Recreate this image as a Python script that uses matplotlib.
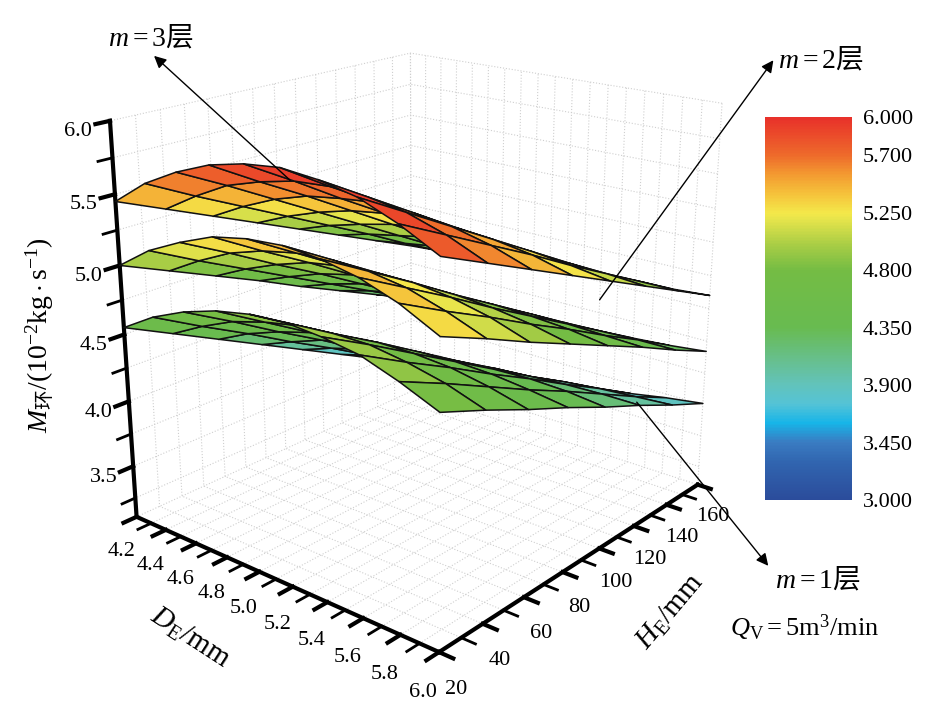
import numpy as np
import matplotlib
matplotlib.use('Agg')
import matplotlib.pyplot as plt
from matplotlib.colors import LinearSegmentedColormap, Normalize
from matplotlib.ticker import MultipleLocator, FormatStrFormatter
import matplotlib.cm as cm

plt.rcParams['font.family'] = ['Liberation Serif', 'Noto Sans CJK SC']
plt.rcParams['mathtext.fontset'] = 'custom'
plt.rcParams['mathtext.rm'] = 'Liberation Serif'
plt.rcParams['mathtext.it'] = 'Liberation Serif:italic'
plt.rcParams['mathtext.sf'] = 'Noto Sans CJK SC'

# 数据: 行 = D_E, 列 = H_E
D_E = [4.2, 4.4, 4.6, 4.8, 5.0, 5.2, 5.4, 5.6, 5.8, 6.0]
H_E = [20, 40, 60, 80, 100, 120, 140, 160]

M_m3 = [
    [5.45, 5.30, 5.15, 5.00, 4.85, 4.70, 4.55, 4.40],
    [5.63, 5.45, 5.28, 5.11, 4.94, 4.77, 4.59, 4.42],
    [5.76, 5.58, 5.39, 5.20, 5.01, 4.82, 4.63, 4.44],
    [5.86, 5.66, 5.47, 5.27, 5.07, 4.87, 4.67, 4.47],
    [5.92, 5.72, 5.51, 5.31, 5.10, 4.90, 4.69, 4.49],
    [5.95, 5.74, 5.54, 5.33, 5.13, 4.92, 4.72, 4.51],
    [5.93, 5.73, 5.53, 5.33, 5.13, 4.93, 4.73, 4.53],
    [5.88, 5.69, 5.50, 5.31, 5.12, 4.93, 4.74, 4.56],
    [5.78, 5.61, 5.44, 5.27, 5.09, 4.92, 4.75, 4.58],
    [5.65, 5.50, 5.35, 5.20, 5.05, 4.90, 4.75, 4.60],
]
M_m2 = [
    [5.00, 4.85, 4.70, 4.55, 4.39, 4.24, 4.09, 3.94],
    [5.17, 4.99, 4.82, 4.65, 4.48, 4.31, 4.14, 3.97],
    [5.29, 5.11, 4.92, 4.74, 4.55, 4.36, 4.18, 3.99],
    [5.39, 5.19, 5.00, 4.80, 4.60, 4.41, 4.21, 4.02],
    [5.44, 5.24, 5.04, 4.84, 4.64, 4.44, 4.24, 4.04],
    [5.46, 5.26, 5.06, 4.86, 4.66, 4.47, 4.27, 4.07],
    [5.44, 5.25, 5.06, 4.86, 4.67, 4.48, 4.29, 4.09],
    [5.39, 5.21, 5.03, 4.84, 4.66, 4.48, 4.30, 4.12],
    [5.30, 5.13, 4.97, 4.80, 4.64, 4.47, 4.31, 4.14],
    [5.17, 5.03, 4.88, 4.74, 4.60, 4.46, 4.31, 4.17],
]
M_m1 = [
    [4.55, 4.38, 4.21, 4.04, 3.87, 3.70, 3.53, 3.36],
    [4.70, 4.51, 4.33, 4.14, 3.96, 3.77, 3.59, 3.41],
    [4.81, 4.62, 4.42, 4.23, 4.03, 3.84, 3.64, 3.45],
    [4.89, 4.69, 4.49, 4.29, 4.09, 3.89, 3.69, 3.49],
    [4.94, 4.74, 4.54, 4.34, 4.14, 3.94, 3.74, 3.54],
    [4.96, 4.76, 4.57, 4.37, 4.17, 3.98, 3.78, 3.58],
    [4.94, 4.76, 4.57, 4.38, 4.19, 4.00, 3.82, 3.63],
    [4.90, 4.72, 4.55, 4.37, 4.20, 4.02, 3.85, 3.67],
    [4.81, 4.66, 4.50, 4.34, 4.19, 4.03, 3.87, 3.72],
    [4.70, 4.57, 4.43, 4.30, 4.16, 4.03, 3.89, 3.76],
]

cbar_ticks = [3.0, 3.45, 3.9, 4.35, 4.8, 5.25, 5.7, 6.0]

# 色标 (Origin 风格)
stops = [(3.0, '#2b4c9b'), (3.3, '#3166b0'), (3.45, '#3a7cc2'), (3.6, '#17b5e8'),
         (3.75, '#55c3d6'), (3.9, '#62c3bb'), (4.1, '#67bf8c'), (4.35, '#68bb50'),
         (4.8, '#74bc44'), (5.0, '#a8cd45'), (5.2, '#e6e44b'), (5.25, '#f4e84a'),
         (5.4, '#f5c23b'), (5.55, '#f39b31'), (5.7, '#ee6b2b'), (6.0, '#e8302a')]
vmin, vmax = 3.0, 6.0
cmap = LinearSegmentedColormap.from_list(
    'origin', [((v - vmin) / (vmax - vmin), c) for v, c in stops])
norm = Normalize(vmin, vmax)

fig = plt.figure(figsize=(9.36, 7.09), dpi=100)
ax = fig.add_axes([0.011, 0.012, 0.86, 1.06], projection='3d', computed_zorder=False)

X, Y = np.meshgrid(D_E, H_E, indexing='ij')
for i, Z in enumerate([M_m1, M_m2, M_m3]):
    Z = np.array(Z)
    ax.plot_surface(X, Y, Z, facecolors=cmap(norm(Z)), edgecolor='#111111',
                    linewidth=1.1, shade=False, antialiased=True, zorder=2 + i)

ax.set_xlim(4.2, 6.0)
ax.set_ylim(20, 160)
ax.set_zlim(3.1, 6.0)
ax.set_box_aspect((0.97, 1.05, 1.0), zoom=0.93)
ax.view_init(elev=20, azim=-50)
ax.set_proj_type('persp', focal_length=0.4)

ax.xaxis.set_major_locator(MultipleLocator(0.2))
ax.xaxis.set_minor_locator(MultipleLocator(0.1))
ax.yaxis.set_major_locator(MultipleLocator(20))
ax.yaxis.set_minor_locator(MultipleLocator(10))
ax.zaxis.set_major_locator(MultipleLocator(0.5))
ax.zaxis.set_minor_locator(MultipleLocator(0.25))
ax.xaxis.set_major_formatter(FormatStrFormatter('%.1f'))
ax.zaxis.set_major_formatter(FormatStrFormatter('%.1f'))
ax.zaxis.set_ticks_position('lower')

for axis in (ax.xaxis, ax.yaxis, ax.zaxis):
    axis.set_pane_color((1, 1, 1, 0))
    axis.pane.set_edgecolor('#333333')
    axis.pane.set_linewidth(0.8)
    axis.line.set_linewidth(3)
    axis._axinfo['grid'].update(color='#cfcfcf', linestyle=':', linewidth=0.8)
    axis._axinfo['tick']['inward_factor'] = 0.5
    axis._axinfo['tick']['outward_factor'] = 0.0
    axis._axinfo['tick']['linewidth'] = {True: 3, False: 2}

ax.tick_params(labelsize=16, pad=6)

# 色标
cax = fig.add_axes([765 / 936, 1 - 500 / 709, 87 / 936, 383 / 709])
sm = cm.ScalarMappable(norm=norm, cmap=cmap)
cb = fig.colorbar(sm, cax=cax, ticks=cbar_ticks)
cb.ax.set_yticklabels(['%.3f' % t for t in cbar_ticks])
cb.ax.tick_params(length=0, labelsize=16, pad=8)
cb.outline.set_visible(False)

# 标注与坐标轴标题
ov = fig.add_axes([0, 0, 1, 1])
ov.set_xlim(0, 936)
ov.set_ylim(709, 0)
ov.axis('off')
ov.patch.set_alpha(0)
arrow = dict(arrowstyle='-|>', color='k', lw=1.0, mutation_scale=18)
ov.annotate('', xy=(152, 54), xytext=(292, 182), arrowprops=arrow)
ov.annotate('', xy=(775, 58), xytext=(598, 302), arrowprops=arrow)
ov.annotate('', xy=(770, 568), xytext=(635, 400), arrowprops=arrow)
ov.text(108, 38, r'$m\mathrm{=3}\mathsf{层}$', fontsize=20, va='center')
ov.text(778, 60, r'$m\mathrm{=2}\mathsf{层}$', fontsize=20, va='center')
ov.text(775, 580, r'$m\mathrm{=1}\mathsf{层}$', fontsize=20, va='center')
ov.text(730, 628, r'$Q_{\mathrm{V}}\mathrm{=5m^3/min}$', fontsize=19, va='center')
ov.text(190, 638, r'$D_{\mathrm{E}}\mathrm{/mm}$', fontsize=21, rotation=-33,
        ha='center', va='center', rotation_mode='anchor')
ov.text(670, 612, r'$H_{\mathrm{E}}\mathrm{/mm}$', fontsize=21, rotation=50,
        ha='center', va='center', rotation_mode='anchor')
ov.text(40, 335, r'$M_{\mathsf{环}}\mathrm{/(10^{-2}kg\cdot s^{-1})}$', fontsize=20,
        rotation=90, ha='center', va='center')

fig.savefig('out.png', dpi=100)
